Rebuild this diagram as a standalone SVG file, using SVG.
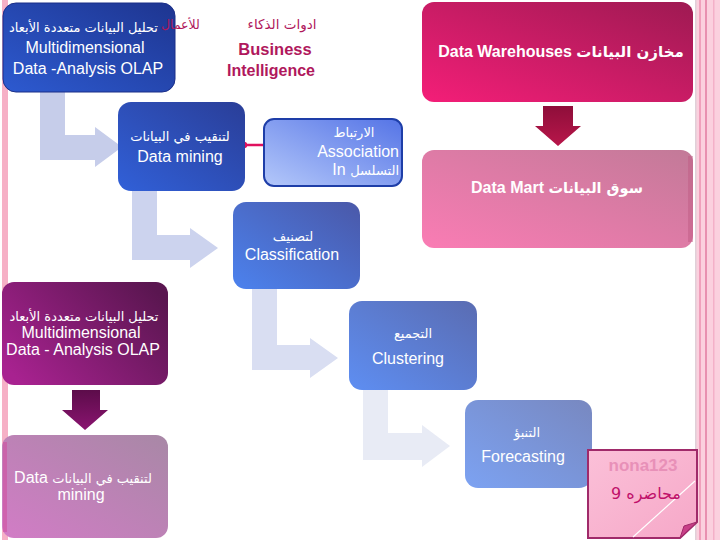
<svg xmlns="http://www.w3.org/2000/svg" width="720" height="540" viewBox="0 0 720 540">
<defs>
<linearGradient id="gBlueDark" x1="0" y1="1" x2="1" y2="0"><stop offset="0" stop-color="#2d5ad0"/><stop offset="1" stop-color="#1e3590"/></linearGradient>
<linearGradient id="gBlueMine" x1="0" y1="1" x2="1" y2="0"><stop offset="0" stop-color="#3160d8"/><stop offset="1" stop-color="#2a3e98"/></linearGradient>
<linearGradient id="gAssoc" x1="0" y1="1" x2="1" y2="0"><stop offset="0" stop-color="#b4c8fa"/><stop offset="1" stop-color="#5574e6"/></linearGradient>
<linearGradient id="gClass" x1="0" y1="1" x2="1" y2="0"><stop offset="0" stop-color="#4c82ee"/><stop offset="1" stop-color="#4a58a8"/></linearGradient>
<linearGradient id="gClust" x1="0" y1="1" x2="1" y2="0"><stop offset="0" stop-color="#5e8ef2"/><stop offset="1" stop-color="#5a6cb2"/></linearGradient>
<linearGradient id="gFore" x1="0" y1="1" x2="1" y2="0"><stop offset="0" stop-color="#7ca2f2"/><stop offset="1" stop-color="#7888c0"/></linearGradient>
<linearGradient id="gWare" x1="0" y1="1" x2="1" y2="0"><stop offset="0" stop-color="#f41e78"/><stop offset="1" stop-color="#9e1a52"/></linearGradient>
<linearGradient id="gMart" x1="0" y1="1" x2="1" y2="0"><stop offset="0" stop-color="#fa7cb4"/><stop offset="1" stop-color="#c27a98"/></linearGradient>
<linearGradient id="gPurple" x1="0" y1="0.8" x2="1" y2="0.2"><stop offset="0" stop-color="#a82290"/><stop offset="1" stop-color="#5a1650"/></linearGradient>
<linearGradient id="gMauve" x1="0" y1="1" x2="1" y2="0"><stop offset="0" stop-color="#d27cc6"/><stop offset="1" stop-color="#a888a6"/></linearGradient>
<linearGradient id="gNona" x1="0" y1="0" x2="1" y2="1"><stop offset="0" stop-color="#fbc0d8"/><stop offset="1" stop-color="#f6a8c8"/></linearGradient>
<linearGradient id="gRed" x1="0" y1="0" x2="0" y2="1"><stop offset="0" stop-color="#8e0e3a"/><stop offset="1" stop-color="#b8164a"/></linearGradient>
<linearGradient id="gPurArr" x1="0" y1="0" x2="0" y2="1"><stop offset="0" stop-color="#5c0c4a"/><stop offset="1" stop-color="#8a1470"/></linearGradient>
</defs>
<style>
.w{fill:#ffffff;font-family:"Liberation Sans","DejaVu Sans",sans-serif;font-size:16px;text-anchor:middle}
.a{fill:#ffffff;font-family:"DejaVu Sans","Liberation Sans",sans-serif;font-size:13px;text-anchor:middle}
.b{font-weight:bold}
.m{fill:#b0185c;font-family:"Liberation Sans","DejaVu Sans",sans-serif;text-anchor:middle}
.ar{font-family:"DejaVu Sans",sans-serif}
</style>
<rect x="0" y="0" width="720" height="540" fill="#ffffff"/>
<!-- side stripes -->
<rect x="2" y="0" width="6" height="540" fill="#f6b0c6"/>
<rect x="695" y="0" width="25" height="540" fill="#fbd0de"/>
<rect x="695" y="0" width="1.5" height="540" fill="#e0d0d8"/>
<rect x="699" y="0" width="2" height="540" fill="#f0a0bc"/>
<rect x="705" y="0" width="2" height="540" fill="#e890b0"/>
<rect x="713" y="0" width="1.5" height="540" fill="#f4b0c8"/>

<g id="connectors">
<path d="M40 92 H65 V135 H95 V127 L122 147 L95 167 V160 H40 Z" fill="#c6cdea"/>
<path d="M132 188 H157 V235 H190 V228 L218 248 L190 268 V260 H132 Z" fill="#ccd3ee"/>
<path d="M252 288 H277 V345 H310 V338 L338 358 L310 378 V370 H252 Z" fill="#d9def2"/>
<path d="M363 389 H388 V433 H422 V425 L450 446 L422 467 V460 H363 Z" fill="#e8ebf5"/>
<path d="M543 106 H573 V126 H581 L558 146 L535 126 H543 Z" fill="url(#gRed)"/>
<path d="M72 390 H100 V410 H108 L85 430 L62 410 H72 Z" fill="url(#gPurArr)"/>
<line x1="264" y1="145" x2="244" y2="145" stroke="#e0105e" stroke-width="2.5"/>
<circle cx="244" cy="145" r="3.2" fill="#e0105e"/>
</g>

<g id="olap-top">
<rect x="3" y="3" width="172" height="89" rx="13" fill="url(#gBlueDark)" stroke="#1a2e88" stroke-width="1"/>
<text class="a" x="158" y="32" font-size="12" style="text-anchor:end">تحليل البيانات متعددة الأبعاد</text>
<text class="w" x="85" y="53">Multidimensional</text>
<text class="w" x="88" y="74">Data -Analysis OLAP</text>
</g>

<g id="bi">
<text class="m ar" x="161" y="29" style="text-anchor:start" font-size="12.5">للأعمال</text>
<text class="m ar" x="282" y="29" font-size="13.5">ادوات الذكاء</text>
<text class="m b" x="275" y="55" font-size="16.5">Business</text>
<text class="m b" x="271" y="76" font-size="16">Intelligence</text>
</g>

<g id="warehouses">
<rect x="422" y="2" width="271" height="100" rx="12" fill="url(#gWare)"/>
<text class="w b" x="561" y="57" font-size="16.5">Data Warehouses <tspan class="ar" font-size="15">مخازن البيانات</tspan></text>
</g>

<g id="datamart">
<rect x="422" y="150" width="271" height="98" rx="12" fill="url(#gMart)"/>
<rect x="688" y="156" width="5" height="86" fill="#c05c84" opacity="0.5"/>
<text class="w b" x="557" y="193" font-size="15.5">Data Mart <tspan class="ar" font-size="14.5">سوق البيانات</tspan></text>
</g>

<g id="datamining">
<rect x="118" y="102" width="127" height="89" rx="13" fill="url(#gBlueMine)"/>
<text class="a" x="180" y="141">لتنقيب في البيانات</text>
<text class="w" x="180" y="162">Data mining</text>
</g>

<g id="association">
<rect x="264" y="119" width="138" height="67" rx="10" fill="url(#gAssoc)" stroke="#1e3ea8" stroke-width="2"/>
<text class="a" x="354" y="137">الارتباط</text>
<text class="w" x="399" y="157" style="text-anchor:end" font-size="15">Association</text>
<text class="w" x="399" y="175" style="text-anchor:end" font-size="15">In <tspan class="ar" font-size="13">التسلسل</tspan></text>
</g>

<g id="classification">
<rect x="233" y="202" width="127" height="87" rx="13" fill="url(#gClass)"/>
<text class="a" x="293" y="241">لتصنيف</text>
<text class="w" x="292" y="260">Classification</text>
</g>

<g id="clustering">
<rect x="349" y="301" width="128" height="89" rx="13" fill="url(#gClust)"/>
<text class="a" x="413" y="338">التجميع</text>
<text class="w" x="408" y="364">Clustering</text>
</g>

<g id="forecasting">
<rect x="465" y="400" width="127" height="88" rx="13" fill="url(#gFore)"/>
<text class="a" x="527" y="437">التنبؤ</text>
<text class="w" x="523" y="462">Forecasting</text>
</g>

<g id="olap-bottom">
<rect x="2" y="282" width="166" height="103" rx="12" fill="url(#gPurple)"/>
<text class="a" x="84" y="321" font-size="12.5">تحليل البيانات متعددة الأبعاد</text>
<text class="w" x="81" y="338">Multidimensional</text>
<text class="w" x="83" y="355">Data - Analysis OLAP</text>
</g>

<g id="mining-bottom">
<rect x="2" y="435" width="166" height="103" rx="12" fill="url(#gMauve)"/>
<rect x="3" y="442" width="4" height="90" fill="#d050a0" opacity="0.6"/>
<text class="w" x="83" y="483">Data <tspan class="ar" font-size="13">لتنقيب في البيانات</tspan></text>
<text class="w" x="81" y="500">mining</text>
</g>

<g id="nona">
<path d="M588 450 H697 V522 L680 538 H588 Z" fill="url(#gNona)" stroke="#a02a6a" stroke-width="2"/>
<path d="M680 538 L684 526 L697 522 Z" fill="#c84088" stroke="#a02a6a" stroke-width="1"/>
<line x1="633" y1="537" x2="695" y2="481" stroke="#ffffff" stroke-width="1.2"/>
<text x="643" y="471" fill="#e890b8" font-family="Liberation Sans, sans-serif" font-size="17" font-weight="bold" text-anchor="middle">nona123</text>
<text x="646" y="499" fill="#c0106a" font-family="DejaVu Sans, sans-serif" font-size="16" text-anchor="middle">محاضره 9</text>
</g>
</svg>
